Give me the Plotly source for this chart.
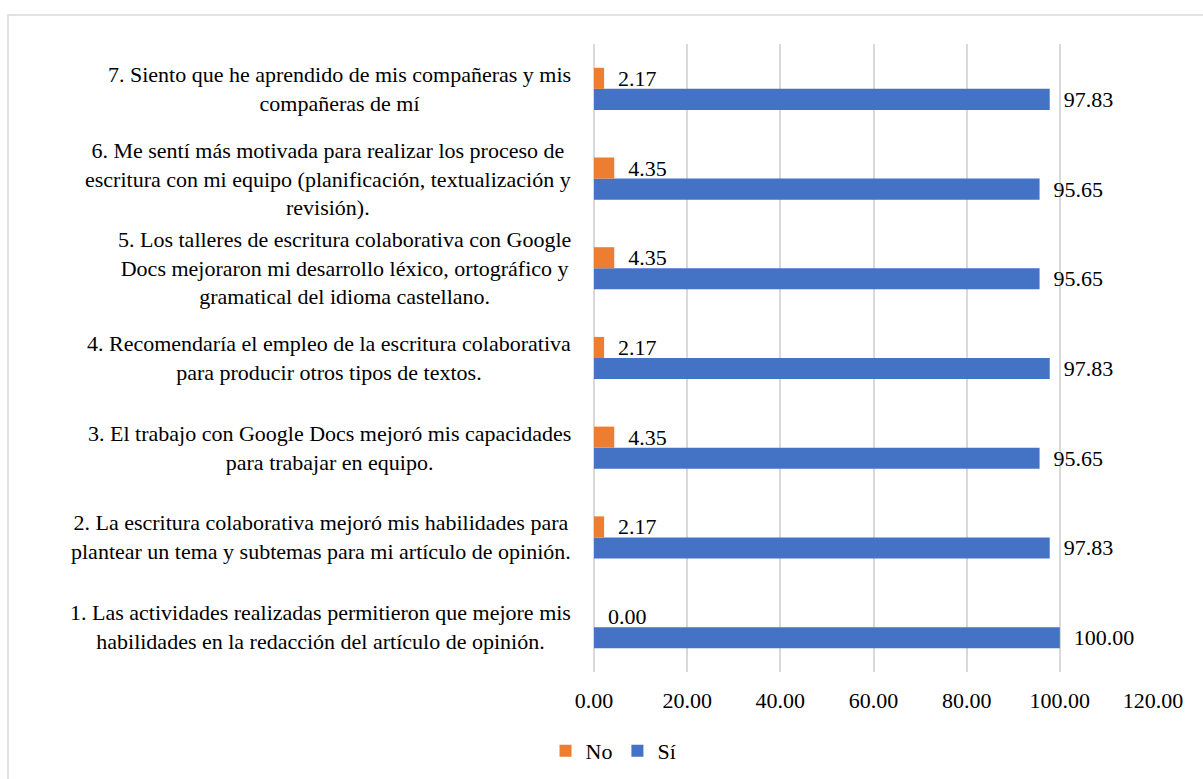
import plotly.graph_objects as go

# Survey items (bottom to top) and percentages per answer
items = [
    "1. Las actividades realizadas permitieron que mejore mis<br>habilidades en la redacción del artículo de opinión.",
    "2. La escritura colaborativa mejoró mis habilidades para<br>plantear un tema y subtemas para mi artículo de opinión.",
    "3. El trabajo con Google Docs mejoró mis capacidades<br>para trabajar en equipo.",
    "4. Recomendaría el empleo de la escritura colaborativa<br>para producir otros tipos de textos.",
    "5. Los talleres de escritura colaborativa con Google<br>Docs mejoraron mi desarrollo léxico, ortográfico y<br>gramatical del idioma castellano.",
    "6. Me sentí más motivada para realizar los proceso de<br>escritura con mi equipo (planificación, textualización y<br>revisión).",
    "7. Siento que he aprendido de mis compañeras y mis<br>compañeras de mí",
]
no_values = [0.00, 2.17, 4.35, 2.17, 4.35, 4.35, 2.17]
si_values = [100.00, 97.83, 95.65, 97.83, 95.65, 95.65, 97.83]
x_ticks = [0, 20, 40, 60, 80, 100, 120]

FONT = "Liberation Serif"
FS = 22
ORANGE = "#ED7D31"
BLUE = "#4472C4"
GRID = "#d9d9d9"

cats = list(range(len(items)))

fig = go.Figure()
fig.add_trace(go.Bar(
    y=cats, x=si_values, orientation="h", name="Sí",
    marker=dict(color=BLUE, line=dict(width=0)),
    texttemplate="\u00a0\u00a0%{x:.2f}", textposition="outside",
    textfont=dict(family=FONT, size=FS, color="black"),
    constraintext="none", cliponaxis=False, legendrank=2,
))
fig.add_trace(go.Bar(
    y=cats, x=no_values, orientation="h", name="No",
    marker=dict(color=ORANGE, line=dict(width=0)),
    texttemplate="\u00a0\u00a0%{x:.2f}", textposition="outside",
    textfont=dict(family=FONT, size=FS, color="black"),
    constraintext="none", cliponaxis=False, legendrank=1,
))

# Category labels drawn as centred multi-line annotations
annotations = []
for c, label in zip(cats, items):
    annotations.append(dict(
        x=0, xref="paper", y=c, yref="y", text=label,
        xanchor="right", yanchor="middle", align="center",
        xshift=-21, showarrow=False,
        font=dict(family=FONT, size=FS, color="black"),
    ))

L, R, T, B = 594, 50, 44, 107
W, H = 1203, 779
pw, ph = W - L - R, H - T - B

def px_to_paper_x(px):
    return (px - L) / pw

def px_to_paper_y(py):
    return (H - B - py) / ph

fig.update_layout(
    width=W, height=H,
    margin=dict(l=L, r=R, t=T, b=B),
    paper_bgcolor="white", plot_bgcolor="white",
    barmode="group", bargap=0.53, bargroupgap=0,
    font=dict(family=FONT, size=FS, color="black"),
    showlegend=True,
    legend=dict(
        orientation="h", xref="container", yref="container",
        x=0.51, y=0.036, xanchor="center", yanchor="middle",
        font=dict(family=FONT, size=FS, color="black"),
        itemwidth=30, tracegroupgap=0,
    ),
    annotations=annotations,
    shapes=[dict(
        type="rect", xref="paper", yref="paper",
        x0=px_to_paper_x(8), x1=px_to_paper_x(1215),
        y0=px_to_paper_y(795), y1=px_to_paper_y(15),
        line=dict(color=GRID, width=1.5), fillcolor="rgba(0,0,0,0)",
        layer="below",
    )],
)
fig.update_xaxes(
    range=[0, 120], tickvals=x_ticks, tickformat=".2f",
    showgrid=True, gridcolor=GRID, gridwidth=1.5,
    zeroline=True, zerolinecolor=GRID, zerolinewidth=1.5,
    showline=False, ticks="", ticklabelstandoff=13,
    tickfont=dict(family=FONT, size=FS, color="black"),
)
fig.update_yaxes(
    range=[-0.5, len(items) - 0.5], showticklabels=False,
    showgrid=False, zeroline=False, showline=False, ticks="",
)

fig.write_html("out.html")
